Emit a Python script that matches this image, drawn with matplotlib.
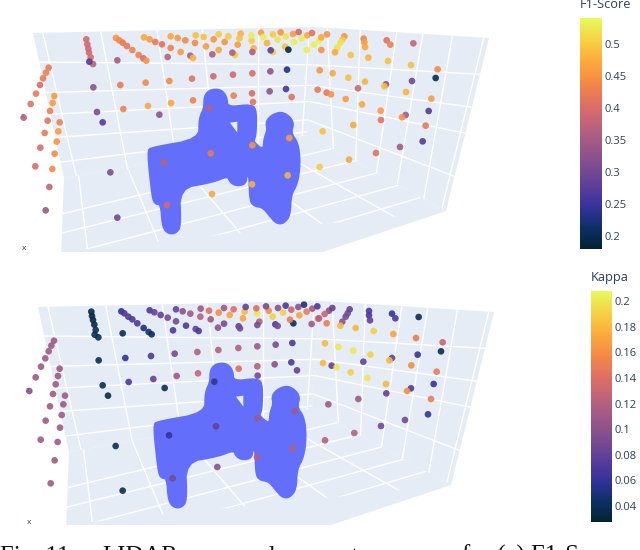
import numpy as np
import matplotlib as mpl
mpl.use('Agg')
import matplotlib.pyplot as plt
from matplotlib.colors import LinearSegmentedColormap
from matplotlib.patches import Polygon

plt.rcParams['font.family'] = ['Open Sans', 'DejaVu Sans']

f1_x = [146, 138, 129, 120, 108, 92, 71, 163, 158, 150, 143, 179, 175, 134, 170, 121, 164, 106, 157, 148, 137,
        259, 262, 265, 267, 272, 279, 268,
        348, 358, 368, 381, 397, 416, 430, 439,
        432, 449, 466, 486, 512, 542, 571, 579,
        512, 533, 556, 585, 618, 656, 705, 697,
        587, 611, 641, 674, 713, 761, 819, 812,
        656, 685, 722, 718, 755, 754, 801, 855, 865,
        783, 819, 842, 790, 833, 857, 882, 920, 879, 896, 905, 922, 936, 942,
        352, 503, 637, 757,
        280, 361, 437, 508, 576, 640, 699, 757, 811, 861,
        291, 370, 444, 513, 579, 701, 756, 809, 858, 875, 759,
        308, 478, 331, 352,
        627, 492, 632, 757, 868, 863, 756, 636, 501,
        958, 964, 981, 1033, 1027, 1021, 1012, 964, 1005, 1052, 1091, 1093, 1095, 1105, 1160, 1171, 1164, 1240, 1233, 1313, 1307,
        959, 998, 1045, 1095, 1158, 1153, 1236, 1074, 1218, 1294, 1286,
        953, 980, 993, 1037, 1086, 1142, 1143, 1217, 1206, 1277, 1268,
        1060, 968, 1200, 1128, 1047, 959]
f1_y = [203, 218, 235, 255, 281, 312, 353, 288, 309, 333, 362, 367, 394, 399, 425, 443, 461, 499, 507, 561, 631,
        118, 133, 146, 158, 172, 192, 185,
        114, 121, 128, 138, 150, 165, 175, 182,
        112, 118, 126, 133, 144, 156, 167, 174,
        109, 114, 121, 129, 139, 150, 165, 158,
        106, 111, 118, 126, 134, 145, 156, 151,
        103, 109, 101, 115, 122, 106, 129, 140, 149,
        98, 103, 97, 111, 119, 109, 126, 150, 102, 96, 115, 106, 99, 134,
        181, 171, 163, 156,
        262, 255, 248, 243, 236, 229, 224, 220, 214, 209,
        336, 327, 318, 309, 301, 287, 280, 274, 267, 291, 306,
        367, 344, 517, 653,
        325, 487, 460, 436, 414, 526, 553, 582, 615,
        121, 112, 103, 109, 119, 128, 143, 150, 157, 165, 116, 127, 141, 173, 121, 134, 183, 130, 195, 208, 234,
        211, 220, 233, 245, 253, 259, 243, 265, 276, 296, 333,
        269, 278, 283, 297, 313, 332, 360, 345, 352, 377, 424,
        375, 394, 441, 459, 479, 501]
f1_v = [.42, .43, .42, .40, .42, .41, .37, .46, .46, .43, .41, .43, .46, .42, .45, .40, .44, .40, .44, .38, .34,
        .39, .39, .39, .39, .40, .37, .27,
        .45, .44, .42, .42, .43, .43, .40, .45,
        .47, .46, .42, .41, .43, .46, .36, .48,
        .47, .46, .44, .44, .46, .47, .50, .36,
        .49, .49, .45, .45, .46, .48, .50, .28,
        .50, .50, .48, .49, .50, .53, .48, .49, .19,
        .46, .50, .45, .53, .52, .52, .53, .53, .46, .39, .53, .47, .41, .53,
        .35, .37, .36, .36,
        .33, .42, .44, .44, .41, .39, .39, .40, .33, .23,
        .31, .43, .47, .47, .43, .43, .40, .33, .26, .41, .41,
        .27, .33, .31, .30,
        .37, .37, .42, .45, .46, .48, .48, .47, .39,
        .53, .47, .45, .45, .50, .52, .52, .45, .47, .49, .43, .46, .47, .48, .41, .43, .49, .38, .49, .44, .20,
        .45, .47, .49, .48, .33, .49, .30, .39, .48, .46, .27,
        .42, .42, .45, .46, .47, .46, .41, .35, .45, .42, .27,
        .47, .49, .35, .41, .47, .50]

kappa_x = [162, 154, 146, 136, 123, 107, 88, 179, 174, 167, 159, 195, 190, 150, 185, 137, 180, 122, 173, 164, 152,
           274, 276, 279, 283, 287, 284, 295,
           364, 373, 385, 397, 412, 431, 446, 455,
           449, 463, 482, 503, 528, 558, 587, 596,
           528, 548, 571, 601, 632, 672, 716, 720, 654,
           602, 627, 656, 689, 729, 778, 772, 826, 833, 880, 935,
           672, 701, 734, 771, 818, 870,
           737, 769, 806, 849, 898, 954, 920,
           798, 834, 874, 857, 895, 912, 937, 952,
           368, 519,
           296, 376, 453, 524, 592, 655, 715, 772, 827, 877,
           308, 386, 460, 530, 594, 716, 772, 824, 874, 891, 773,
           324, 494, 347, 368,
           643, 507, 648, 773, 884, 878, 771, 652, 518,
           987, 997, 1027, 1037, 1043, 1049, 957, 974, 980, 1021, 1067, 1121, 1180, 1248, 1328, 1323,
           1107, 1107, 1110, 1176, 1186, 1256,
           975, 1015, 1060, 1111, 1176, 1168, 1090, 1253, 1234, 1310, 969, 995, 1010, 1052, 1102, 1158, 1233, 1221, 1159, 1301, 1293, 1075, 985,
           1284, 1215, 1143, 1063, 975]
kappa_y = [242, 257, 274, 295, 320, 352, 393, 326, 348, 373, 402, 407, 433, 439, 465, 482, 503, 539, 546, 601, 670,
           155, 168, 180, 194, 210, 224, 232,
           154, 160, 170, 178, 190, 204, 216, 223,
           151, 157, 165, 173, 184, 197, 207, 213,
           148, 154, 161, 170, 178, 191, 199, 205, 203,
           146, 152, 158, 165, 175, 185, 195, 193, 198, 190, 192,
           144, 148, 155, 161, 170, 179,
           141, 145, 152, 158, 166, 176, 155,
           139, 144, 149, 137, 141, 134, 146, 139,
           220, 211,
           301, 294, 288, 281, 276, 270, 264, 259, 254, 249,
           376, 366, 357, 348, 340, 326, 319, 313, 307, 331, 347,
           407, 384, 558, 692,
           365, 526, 499, 475, 454, 565, 591, 621, 655,
           152, 144, 185, 170, 160, 148, 175, 162, 190, 197, 204, 213, 222, 234, 247, 274,
           153, 166, 181, 161, 175, 171,
           250, 261, 272, 284, 294, 301, 305, 284, 316, 335, 309, 317, 322, 337, 354, 372, 385, 393, 400, 372, 417, 417, 433,
           463, 480, 498, 519, 541]
kappa_v = [.11, .11, .11, .11, .11, .11, .10, .11, .11, .11, .11, .11, .11, .11, .11, .11, .11, .11, .11, .11, .11,
           .035, .035, .035, .035, .04, .04, .04,
           .06, .07, .07, .07, .07, .05, .05, .04,
           .07, .08, .08, .09, .09, .07, .08, .07,
           .08, .10, .11, .12, .11, .09, .08, .09, .10,
           .11, .14, .16, .17, .17, .12, .09, .07, .09, .04, .11,
           .11, .14, .18, .20, .19, .15,
           .08, .14, .16, .19, .17, .15, .15,
           .09, .10, .13, .07, .10, .05, .11, .07,
           .04, .07,
           .04, .06, .07, .09, .12, .12, .12, .11, .09, .07,
           .04, .07, .08, .11, .13, .14, .12, .10, .07, .08, .09,
           .035, .04, .04, .04,
           .06, .06, .08, .11, .11, .12, .12, .10, .09,
           .10, .08, .10, .09, .09, .08, .12, .13, .15, .18, .18, .19, .17, .15, .13, .04,
           .07, .07, .08, .06, .07, .04,
           .18, .20, .20, .19, .08, .18, .08, .06, .16, .15, .18, .08, .20, .19, .20, .18, .07, .16, .08, .06, .15, .11, .11,
           .06, .09, .09, .12, .12]

# LiDAR body outline, top panel, crop units from image point (140, 80)
body_x = [25, 35, 180, 180, 195, 195, 210, 240, 258, 260, 335, 347, 345, 335, 372, 375, 385, 380, 400, 430, 460, 450,
          472, 478, 470, 450, 448, 430, 410, 390, 370, 340, 332, 330, 318, 315, 290, 272, 265, 215, 115, 120, 105, 85,
          70, 65, 45, 38]
body_y = [215, 205, 180, 115, 85, 50, 32, 30, 50, 85, 75, 95, 170, 185, 215, 175, 150, 125, 105, 98, 125, 160,
          190, 250, 310, 345, 405, 428, 428, 405, 380, 375, 355, 280, 285, 310, 315, 305, 285, 305, 322, 440, 458, 458,
          440, 370, 370, 340]
hole_x = [270, 292, 292, 275]
hole_y = [128, 125, 158, 135]

f1_ticks = [0.2, 0.25, 0.3, 0.35, 0.4, 0.45, 0.5]
f1_labels = ['0.2', '0.25', '0.3', '0.35', '0.4', '0.45', '0.5']
kappa_ticks = [0.04, 0.06, 0.08, 0.1, 0.12, 0.14, 0.16, 0.18, 0.2]
kappa_labels = ['0.04', '0.06', '0.08', '0.1', '0.12', '0.14', '0.16', '0.18', '0.2']

thermal = LinearSegmentedColormap.from_list('thermal', [
    '#032333', '#0d3064', '#35329b', '#5d3e99', '#7e4d8f', '#9e5987',
    '#c16479', '#e17161', '#f68b45', '#fbad3c', '#f6d346', '#e7fa5a'])

BG = '#e5ecf6'
TEXT = '#2a3f5f'
BODY = '#636efa'

fig = plt.figure(figsize=(6.4, 5.5), dpi=100)
ax = fig.add_axes([0, 0, 1, 1])
ax.set_xlim(0, 640)
ax.set_ylim(550, 0)
ax.axis('off')


def round_corners(pts, passes=2):
    # corner cutting, the body edge is soft in the reference
    for _ in range(passes):
        nxt = np.roll(pts, -1, axis=0)
        pts = np.vstack([pts * .75 + nxt * .25, pts * .25 + nxt * .75])
        order = np.arange(len(pts)).reshape(2, -1).T.ravel()
        pts = pts[order]
    return pts


def draw_wall(corners, dx, dy, clip_y, a_fracs, b_fracs, c_fracs, d_fracs):
    # corners go round the quad; a/b run the first pair of opposite edges, c/d the other
    pts = np.array(corners, dtype=float) + [dx, dy]
    p0, p1, p2, p3 = pts
    wall = Polygon(pts, closed=True, fc=BG, ec='none', zorder=1)
    ax.add_patch(wall)
    clip = plt.Rectangle((0, 0), 640, clip_y, transform=ax.transData)
    wall.set_clip_path(clip)
    clip_pts = pts.copy()
    clip_pts[:, 1] = np.minimum(clip_pts[:, 1], clip_y)
    line_clip = Polygon(clip_pts, closed=True, transform=ax.transData)
    for a, b in zip(a_fracs, b_fracs):
        s = p0 + (p1 - p0) * a
        e = p3 + (p2 - p3) * b
        line, = ax.plot([s[0], e[0]], [s[1], e[1]], color='white', lw=1.0, zorder=2, solid_capstyle='butt')
        line.set_clip_path(line_clip)
    for c, d in zip(c_fracs, d_fracs):
        s = p0 + (p3 - p0) * c
        e = p1 + (p2 - p1) * d
        line, = ax.plot([s[0], e[0]], [s[1], e[1]], color='white', lw=1.0, zorder=2, solid_capstyle='butt')
        line.set_clip_path(line_clip)


def draw_panel(dx, dy, clip_y, xs, ys, vs, vmin, vmax):
    # left wall, right wall, floor
    draw_wall([(33, 33), (315, 27), (307, 135), (64, 178)], dx, dy, clip_y,
              [.035, .24, .44, .6, .8, .98], [.05, .26, .46, .62, .8, .98],
              [.2, .41, .56, .72, .89], [.35, .54, .69, .86, .97])
    draw_wall([(315, 27), (489, 38), (446, 211), (307, 135)], dx, dy, clip_y,
              [.07, .26, .47, .62, .79, .97], [.19, .35, .5, .65, .84, .97],
              [.35, .54, .69, .86], [.21, .4, .55, .8])
    draw_wall([(64, 178), (307, 135), (446, 211), (58, 340)], dx, dy, clip_y,
              [.06, .26, .46, .64, .82], [.1, .32, .55, .75, .9],
              [.22, .34, .48, .62, .78], [.18, .34, .5, .66, .82])

    # the two small clipped axis titles at the left
    ax.text(23 + dx, 117 + dy, 'z', color=TEXT, fontsize=6, ha='center', va='center', zorder=3)
    ax.text(24 + dx, 249 + dy, 'x', color=TEXT, fontsize=6, ha='center', va='center', zorder=3)

    bx = np.array(body_x) / 3 + 140 + dx * 6 / 5
    by = np.array(body_y) / 3 + 80 + dy
    ax.add_patch(Polygon(round_corners(np.c_[bx, by]), closed=True, fc=BODY, ec=BODY, lw=2.5,
                         joinstyle='round', zorder=4))
    hx = np.array(hole_x) / 3 + 140 + dx * 6 / 5
    hy = np.array(hole_y) / 3 + 80 + dy
    ax.add_patch(Polygon(np.c_[hx, hy], closed=True, fc=BG, ec='none', zorder=5))

    sc = ax.scatter(xs, ys, c=vs, cmap=thermal, vmin=vmin, vmax=vmax, s=23, linewidths=0, alpha=0.9, zorder=6)
    return sc


def draw_colorbar(sc, left, right, top, bottom, ticks, labels, title, title_y):
    cax = fig.add_axes([left / 640, 1 - bottom / 550, (right - left) / 640, (bottom - top) / 550])
    cb = fig.colorbar(sc, cax=cax)
    cb.set_ticks(ticks, labels=labels)
    cb.solids.set_alpha(1)
    cb.outline.set_visible(False)
    cax.tick_params(length=0, pad=1.5, labelsize=8, labelcolor=TEXT)
    fig.text(left / 640, 1 - title_y / 550, title, color=TEXT, fontsize=9.2, ha='left', va='center')


top_xs = np.array(f1_x) / 3
top_ys = np.array(f1_y) / 3
sc1 = draw_panel(0, 0, 252, top_xs, top_ys, f1_v, 0.18, 0.5406)
draw_colorbar(sc1, 580, 602, 18, 249, f1_ticks, f1_labels, 'F1-Score', 4)

bot_xs = np.array(kappa_x) / 3
bot_ys = np.array(kappa_y) / 3 + 260
sc2 = draw_panel(5, 274, 525, bot_xs, bot_ys, kappa_v, 0.0275, 0.208)
draw_colorbar(sc2, 591, 612, 291, 522, kappa_ticks, kappa_labels, 'Kappa', 277)

# caption runs off the bottom of the crop, only the tops of the letters show
caption_words = ['Fig. 11:', 'LIDAR', 'sensor placement', 'scores', 'for (a) F1-Score and']
caption_x = [0, 102, 187, 385, 462]
for word, x in zip(caption_words, caption_x):
    ax.text(x, 563, word, family=['Liberation Serif', 'DejaVu Serif'], fontsize=17.8,
            color='#111111', ha='left', va='baseline', clip_on=True)

fig.savefig('out.png', dpi=100)
